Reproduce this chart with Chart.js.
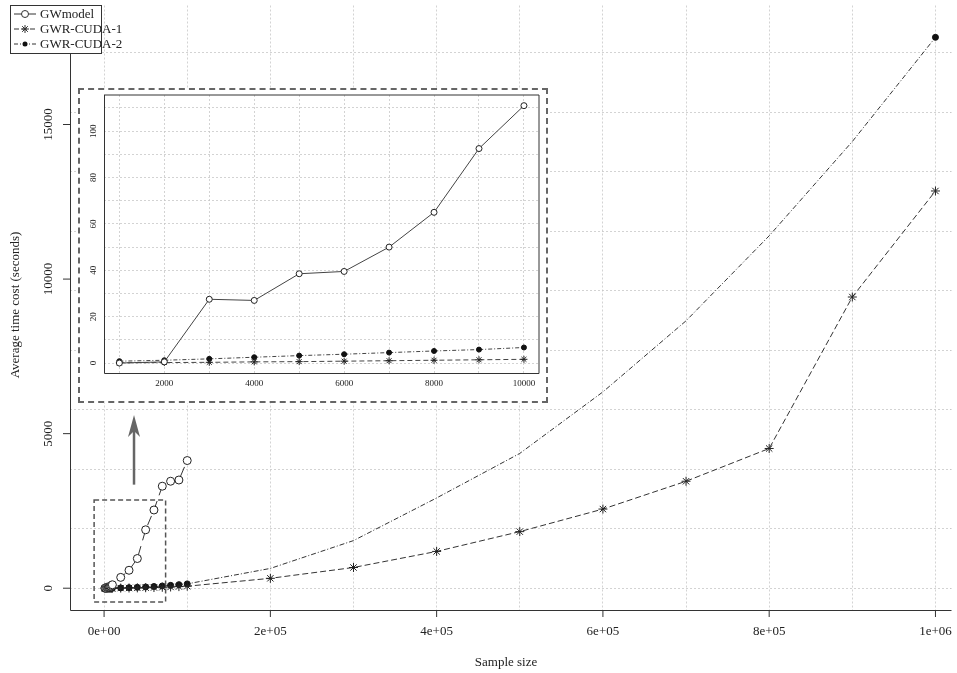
<!DOCTYPE html>
<html><head><meta charset="utf-8">
<script src="https://cdn.jsdelivr.net/npm/chart.js@4"></script>
<style>
body{margin:0;background:#fff}
#wrap{position:relative;width:957px;height:673px}
#main{position:absolute;left:0;top:0}
#inbox{position:absolute;left:78px;top:88px;width:466px;height:311px;border:2px dashed #666;background:#fff}
#inset{position:absolute;left:0;top:0}
</style></head>
<body>
<div id="wrap">
<canvas id="main" width="957" height="673"></canvas>
<div id="inbox"><canvas id="inset" width="466" height="311"></canvas></div>
</div>
<script>
var FONT = '"Liberation Serif", "DejaVu Serif", serif'

// main chart data
var sizesSmall = [1000,2000,3000,4000,5000,6000,7000,8000,9000,10000]
var sizesMid = [20000,30000,40000,50000,60000,70000,80000,90000,100000]
var sizesBig = [200000,300000,400000,500000,600000,700000,800000,900000,1000000]

var gwSmall = [0,0.5,27.5,27,38.5,39.5,50,65,92.5,111]
var gwMid = [350,580,960,1890,2530,3300,3460,3500,4130]

var cuda1Small = [0.1,0.2,0.3,0.5,0.6,0.8,1.0,1.2,1.4,1.6]
var cuda1Mid = [4,7,11,16,22,30,40,52,65]
var cuda1Big = [320,670,1190,1830,2560,3460,4520,9420,12850]

var cuda2Small = [0.8,1.2,1.8,2.5,3.2,3.8,4.5,5.2,5.8,6.7]
var cuda2Mid = [10,18,28,40,55,72,92,115,140]
var cuda2Big = [640,1540,2920,4360,6350,8650,11400,14450,17820]

var mainYLabels = [0,5000,10000,15000]
var mainXLabels = ['0e+00','2e+05','4e+05','6e+05','8e+05','1e+06']
var insetXLabels = [2000,4000,6000,8000,10000]
var insetYLabels = [0,20,40,60,80,100]

function pts(xs, ys){ return xs.map(function(x,i){ return {x:x, y:ys[i]} }) }

var gwAll = pts(sizesSmall.concat(sizesMid), gwSmall.concat(gwMid))
var c1All = pts(sizesSmall.concat(sizesMid, sizesBig), cuda1Small.concat(cuda1Mid, cuda1Big))
var c2All = pts(sizesSmall.concat(sizesMid, sizesBig), cuda2Small.concat(cuda2Mid, cuda2Big))
var c2Radius = c2All.map(function(p){ return (p.x <= 100000 || p.x == 1000000) ? 3 : 0 })

// draws rotated y labels, x labels and axis titles R-style
function rLabels(opts){
  return {
    id: 'rlabels',
    afterDraw: function(ch){
      var c = ch.ctx, x = ch.scales.x, y = ch.scales.y, a = ch.chartArea
      c.save()
      c.strokeStyle = '#333'; c.fillStyle = '#222'; c.lineWidth = 1
      c.font = opts.size + 'px ' + FONT
      c.beginPath()
      c.moveTo(a.left+0.5, a.top); c.lineTo(a.left+0.5, a.bottom+0.5); c.lineTo(a.right, a.bottom+0.5)
      if (opts.box) { c.lineTo(a.right, a.top); c.lineTo(a.left, a.top) }
      c.stroke()
      opts.yl.forEach(function(v){
        var py = y.getPixelForValue(v)
        c.beginPath(); c.moveTo(a.left, py); c.lineTo(a.left-opts.tick, py); c.stroke()
        c.save(); c.translate(a.left-opts.tick-opts.gap, py); c.rotate(-Math.PI/2)
        c.textAlign = 'center'; c.textBaseline = 'bottom'; c.fillText(String(v), 0, 0); c.restore()
      })
      opts.xv.forEach(function(v,i){
        var px = x.getPixelForValue(v)
        c.beginPath(); c.moveTo(px, a.bottom); c.lineTo(px, a.bottom+opts.tick); c.stroke()
        c.textAlign = 'center'; c.textBaseline = 'top'
        c.fillText(opts.xl[i], px, a.bottom+opts.tick+opts.gap)
      })
      if (opts.xtitle) {
        c.textAlign = 'center'; c.textBaseline = 'middle'
        c.fillText(opts.xtitle, 506, 663)
        c.save(); c.translate(16, 305); c.rotate(-Math.PI/2)
        c.fillText(opts.ytitle, 0, 0); c.restore()
      }
      c.restore()
    }
  }
}

var extras = {
  id: 'extras',
  afterDraw: function(ch){
    var c = ch.ctx, x = ch.scales.x, y = ch.scales.y
    c.save()
    // zoom box
    c.strokeStyle = '#555'; c.lineWidth = 1.5; c.setLineDash([5,3])
    var x0 = x.getPixelForValue(-12000), x1 = x.getPixelForValue(74000)
    var y0 = y.getPixelForValue(2850), y1 = y.getPixelForValue(-450)
    c.strokeRect(x0, y0, x1-x0, y1-y0)
    c.setLineDash([])
    // arrow
    var ax = x.getPixelForValue(36000)
    var ayb = y.getPixelForValue(3350), ayt = y.getPixelForValue(5600)
    c.strokeStyle = '#666'; c.fillStyle = '#666'; c.lineWidth = 2.5
    c.beginPath(); c.moveTo(ax, ayb); c.lineTo(ax, ayt+12); c.stroke()
    c.beginPath(); c.moveTo(ax, ayt); c.lineTo(ax-6, ayt+22); c.lineTo(ax, ayt+16); c.lineTo(ax+6, ayt+22); c.closePath(); c.fill()
    // legend
    c.strokeStyle = '#333'; c.lineWidth = 1
    c.fillStyle = '#fff'; c.fillRect(10, 5, 92, 48); c.strokeRect(10.5, 5.5, 91, 48)
    var names = ['GWmodel','GWR-CUDA-1','GWR-CUDA-2']
    var dashes = [[], [5,3], [4,2,1,2]]
    c.font = '13px ' + FONT; c.textBaseline = 'middle'; c.textAlign = 'left'
    names.forEach(function(n,i){
      var ly = 14 + i*15
      c.strokeStyle = '#333'; c.setLineDash(dashes[i])
      c.beginPath(); c.moveTo(14, ly); c.lineTo(36, ly); c.stroke(); c.setLineDash([])
      if (i == 0) { c.fillStyle='#fff'; c.beginPath(); c.arc(25, ly, 3.5, 0, 7); c.fill(); c.stroke() }
      if (i == 1) { c.beginPath(); for (var k=0;k<4;k++){ var an=k*Math.PI/4; c.moveTo(25-4*Math.cos(an), ly-4*Math.sin(an)); c.lineTo(25+4*Math.cos(an), ly+4*Math.sin(an)) } c.stroke() }
      if (i == 2) { c.fillStyle='#111'; c.beginPath(); c.arc(25, ly, 2.5, 0, 7); c.fill() }
      c.fillStyle = '#222'; c.fillText(n, 40, ly+1)
    })
    c.restore()
  }
}

var gridOpt = { color: '#c8c8c8', lineWidth: 0.8, drawTicks: false }
var borderOpt = { display: false, dash: [2,2] }

new Chart(document.getElementById('main'), {
  type: 'line',
  data: { datasets: [
    { label: 'GWmodel', data: gwAll, borderColor: '#333', borderWidth: 1, borderDash: [10,6],
      pointStyle: 'circle', pointRadius: 4, pointBackgroundColor: '#fff', pointBorderColor: '#222' },
    { label: 'GWR-CUDA-1', data: c1All, borderColor: '#333', borderWidth: 1, borderDash: [6,3],
      pointStyle: 'star', pointRadius: 4.5, pointBorderColor: '#222', pointBackgroundColor: '#222' },
    { label: 'GWR-CUDA-2', data: c2All, borderColor: '#333', borderWidth: 1, borderDash: [5,2,1,2],
      pointStyle: 'circle', pointRadius: c2Radius, pointBackgroundColor: '#111', pointBorderColor: '#111' }
  ]},
  options: {
    responsive: false, animation: false,
    plugins: { legend: { display: false }, tooltip: { enabled: false } },
    scales: {
      x: { type: 'linear', min: -41000, max: 1019300,
        afterBuildTicks: function(s){ s.ticks = [0,1,2,3,4,5,6,7,8,9,10].map(function(k){ return {value: k*100000} }) },
        afterFit: function(s){ s.height = 63 },
        ticks: { display: false }, grid: gridOpt, border: borderOpt },
      y: { min: -705, max: 18850,
        afterBuildTicks: function(s){ var t=[]; for (var v=0; v<=18500; v+=1925) t.push({value:v}); s.ticks = t },
        afterFit: function(s){ s.width = 70 },
        ticks: { display: false }, grid: gridOpt, border: borderOpt }
    }
  },
  plugins: [rLabels({ yl: mainYLabels, xv: [0,200000,400000,600000,800000,1000000], xl: mainXLabels,
    size: 13, tick: 7, gap: 8, xtitle: 'Sample size', ytitle: 'Average time cost (seconds)' }), extras]
})

new Chart(document.getElementById('inset'), {
  type: 'line',
  data: { datasets: [
    { data: pts(sizesSmall, gwSmall), borderColor: '#444', borderWidth: 1,
      pointStyle: 'circle', pointRadius: 3, pointBackgroundColor: '#fff', pointBorderColor: '#222' },
    { data: pts(sizesSmall, cuda1Small), borderColor: '#444', borderWidth: 1, borderDash: [5,3],
      pointStyle: 'star', pointRadius: 3.5, pointBorderColor: '#222' },
    { data: pts(sizesSmall, cuda2Small), borderColor: '#444', borderWidth: 1, borderDash: [4,2,1,2],
      pointStyle: 'circle', pointRadius: 2.5, pointBackgroundColor: '#111', pointBorderColor: '#111' }
  ]},
  options: {
    responsive: false, animation: false,
    layout: { padding: { top: 5, right: 7 } },
    plugins: { legend: { display: false }, tooltip: { enabled: false } },
    scales: {
      x: { type: 'linear', min: 658, max: 10335,
        afterBuildTicks: function(s){ var t=[]; for (var v=1000; v<=10000; v+=1000) t.push({value:v}); s.ticks = t },
        afterFit: function(s){ s.height = 28 },
        ticks: { display: false }, grid: gridOpt, border: borderOpt },
      y: { min: -4.3, max: 115.6,
        afterBuildTicks: function(s){ var t=[]; for (var v=0; v<=110; v+=10) t.push({value:v}); s.ticks = t },
        afterFit: function(s){ s.width = 24 },
        ticks: { display: false }, grid: gridOpt, border: borderOpt }
    }
  },
  plugins: [rLabels({ yl: insetYLabels, xv: insetXLabels, xl: insetXLabels.map(String),
    size: 9, tick: 0, gap: 6, box: true })]
})
</script>
</body></html>
